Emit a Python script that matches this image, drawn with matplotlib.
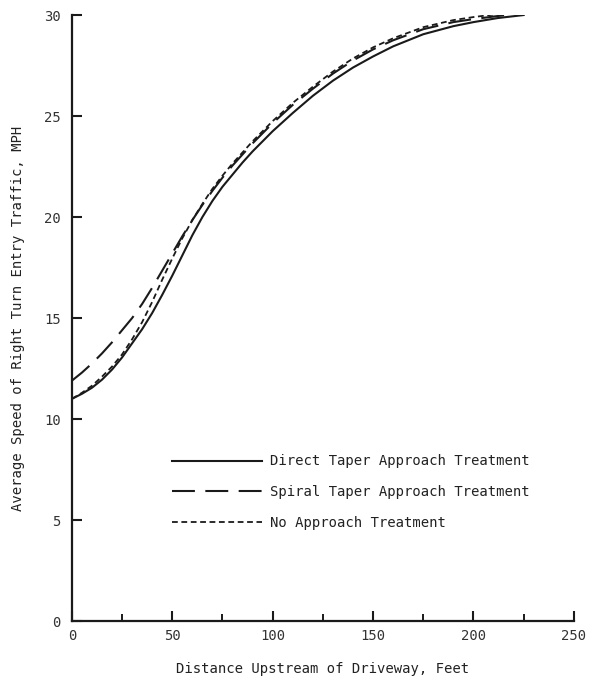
import numpy as np
import matplotlib.pyplot as plt
from matplotlib.ticker import MultipleLocator

# distance upstream of driveway (ft)
distance = [0, 5, 10, 15, 20, 25, 30, 35, 40, 45, 50, 55, 60, 65, 70, 75, 80, 85, 90, 95,
            100, 110, 120, 130, 140, 150, 160, 175, 190, 200, 212, 225]

# average speed of right turn entry traffic (mph)
direct_taper = [11.0, 11.25, 11.55, 11.95, 12.45, 13.05, 13.75, 14.45, 15.25, 16.15,
                17.1, 18.1, 19.1, 20.0, 20.8, 21.5, 22.1, 22.7, 23.25, 23.75,
                24.25, 25.15, 26.0, 26.75, 27.4, 27.95, 28.45, 29.05, 29.45, 29.65, 29.85, 30.0]
spiral_taper = [11.9, 12.3, 12.75, 13.25, 13.8, 14.4, 15.0, 15.7, 16.5, 17.35,
                18.2, 19.05, 19.85, 20.6, 21.3, 21.95, 22.55, 23.1, 23.65, 24.15,
                24.65, 25.55, 26.35, 27.1, 27.75, 28.3, 28.75, 29.3, 29.65, 29.8, 29.95, 30.1]
no_treatment = [11.0, 11.3, 11.65, 12.1, 12.6, 13.2, 13.95, 14.8, 15.8, 16.9,
                17.95, 18.95, 19.85, 20.65, 21.4, 22.05, 22.65, 23.2, 23.75, 24.25,
                24.75, 25.65, 26.45, 27.2, 27.85, 28.4, 28.85, 29.4, 29.75, 29.9, 30.05, 30.2]

plt.rcParams['font.family'] = ['DejaVu Sans Mono']

fig = plt.figure(figsize=(5.99, 6.84), dpi=100)
ax = fig.add_axes([0.120, 0.092, 0.838, 0.886])

ax.plot(distance, direct_taper, color='#1a1a1a', lw=1.5, label='Direct Taper Approach Treatment')
ax.plot(distance, spiral_taper, color='#1a1a1a', lw=1.5, dashes=(11, 5),
        label='Spiral Taper Approach Treatment')
ax.plot(distance, no_treatment, color='#1a1a1a', lw=1.3, dashes=(3.2, 2),
        label='No Approach Treatment')

ax.set_xlim(0, 250)
ax.set_ylim(0, 30)
ax.xaxis.set_major_locator(MultipleLocator(50))
ax.xaxis.set_minor_locator(MultipleLocator(25))
ax.yaxis.set_major_locator(MultipleLocator(5))

for side in ('top', 'right'):
    ax.spines[side].set_visible(False)
for side in ('left', 'bottom'):
    ax.spines[side].set_linewidth(1.6)
    ax.spines[side].set_color('#1a1a1a')

ax.tick_params(axis='both', which='major', direction='in', length=7, width=1.5,
               colors='#1a1a1a', labelcolor='#333333', labelsize=10)
ax.tick_params(axis='x', which='major', pad=6)
ax.tick_params(axis='y', which='major', pad=8)
ax.tick_params(axis='x', which='minor', direction='in', length=5, width=1.4, colors='#1a1a1a')

ax.set_xlabel('Distance Upstream of Driveway, Feet', fontsize=10, color='#222222', labelpad=13.5)
ax.set_ylabel('Average Speed of Right Turn Entry Traffic, MPH', fontsize=10,
              color='#222222', labelpad=14)

leg = ax.legend(loc='upper left', bbox_to_anchor=(0.199, 0.275), frameon=False,
                fontsize=10, handlelength=6.5, handletextpad=0.6, labelspacing=1.2,
                borderaxespad=0, borderpad=0)
for t in leg.get_texts():
    t.set_color('#222222')

fig.savefig('out.png', dpi=100)
